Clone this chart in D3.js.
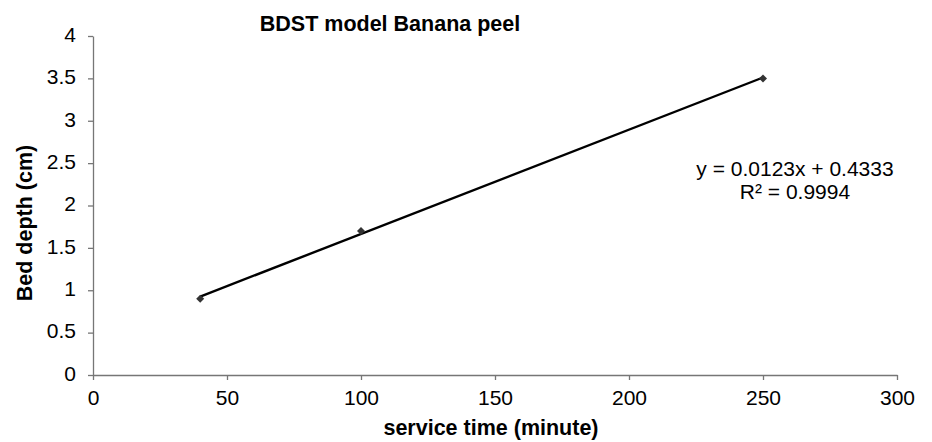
<!DOCTYPE html>
<html lang="en">
<head>
    <meta charset="UTF-8">
    <title>BDST model Banana peel</title>
    <script src="https://d3js.org/d3.v7.min.js"></script>
    <style>
        body { margin: 0; background: #fff; }
        svg { font-family: "Liberation Sans", Arial, sans-serif; }
        .tick text { font-size: 21px; fill: #000; }
        .tick line, .domain { stroke: #767676; stroke-width: 1.3px; }
    </style>
</head>
<body>
    <svg width="932" height="442"></svg>
    <script>
        // service time (minute) vs bed depth (cm)
        const serviceTime = [40, 100, 250];
        const bedDepth = [0.9, 1.7, 3.5];
        const xTicks = [0, 50, 100, 150, 200, 250, 300];
        const yTicks = [0, 0.5, 1, 1.5, 2, 2.5, 3, 3.5, 4];
        const equationLines = ["y = 0.0123x + 0.4333", "R\u00b2 = 0.9994"];

        const svg = d3.select("svg");
        const margin = { left: 93, right: 35, top: 36, bottom: 67 };
        const width = 932, height = 442;

        const x = d3.scaleLinear().domain([0, 300]).range([margin.left, width - margin.right]);
        const y = d3.scaleLinear().domain([0, 4]).range([height - margin.bottom, margin.top]);

        // axes
        svg.append("g")
            .attr("transform", `translate(0,${y(0)})`)
            .call(d3.axisBottom(x).tickValues(xTicks).tickSize(5).tickPadding(9).tickSizeOuter(0))
            .call(g => g.selectAll("text").attr("dy", "0.75em"));

        svg.append("g")
            .attr("transform", `translate(${x(0)},0)`)
            .call(d3.axisLeft(y).tickValues(yTicks).tickFormat(d3.format("")).tickSize(5).tickPadding(12).tickSizeOuter(0))
            .call(g => g.selectAll("text").attr("dy", "0.25em"));

        // linear trendline (least squares)
        const mx = d3.mean(serviceTime), my = d3.mean(bedDepth);
        const slope = d3.sum(serviceTime, (v, i) => (v - mx) * (bedDepth[i] - my)) /
            d3.sum(serviceTime, v => (v - mx) * (v - mx));
        const intercept = my - slope * mx;
        const ext = d3.extent(serviceTime);

        svg.append("line")
            .attr("x1", x(ext[0])).attr("y1", y(slope * ext[0] + intercept))
            .attr("x2", x(ext[1])).attr("y2", y(slope * ext[1] + intercept))
            .attr("stroke", "#000")
            .attr("stroke-width", 2.4);

        // diamond markers
        svg.append("g")
            .selectAll("path")
            .data(serviceTime.map((v, i) => [v, bedDepth[i]]))
            .join("path")
            .attr("transform", d => `translate(${x(d[0])},${y(d[1])})`)
            .attr("d", "M0,-4L4,0L0,4L-4,0Z")
            .attr("fill", "#333");

        // trendline equation
        svg.append("text")
            .attr("x", 795).attr("y", 176)
            .attr("text-anchor", "middle")
            .attr("font-size", 21)
            .selectAll("tspan")
            .data(equationLines)
            .join("tspan")
            .attr("x", 795)
            .attr("dy", (d, i) => i ? 23 : 0)
            .text(d => d);

        // titles
        svg.append("text")
            .attr("x", 390).attr("y", 31)
            .attr("text-anchor", "middle")
            .attr("font-size", 21.5).attr("font-weight", "bold")
            .text("BDST model Banana peel");

        svg.append("text")
            .attr("x", 491).attr("y", 435)
            .attr("text-anchor", "middle")
            .attr("font-size", 21.5).attr("font-weight", "bold")
            .text("service time (minute)");

        svg.append("text")
            .attr("transform", "translate(32,223) rotate(-90)")
            .attr("text-anchor", "middle")
            .attr("font-size", 21.5).attr("font-weight", "bold")
            .text("Bed depth (cm)");
    </script>
</body>
</html>
